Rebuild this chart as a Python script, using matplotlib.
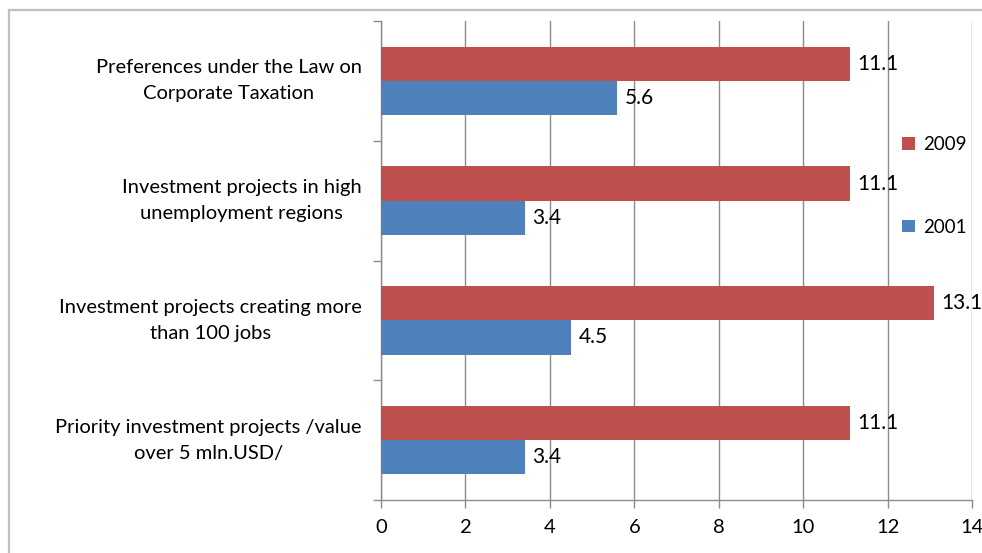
import numpy as np
import matplotlib.pyplot as plt
from matplotlib.patches import Rectangle

plt.rcParams['font.family'] = ['Lato', 'DejaVu Sans']

categories = ["Preferences under the Law on\nCorporate Taxation",
              "Investment projects in high\nunemployment regions",
              "Investment projects creating more\nthan 100 jobs",
              "Priority investment projects /value\nover 5 mln.USD/"]
vals_2009 = [11.1, 11.1, 13.1, 11.1]
vals_2001 = [5.6, 3.4, 4.5, 3.4]
xticks = [0, 2, 4, 6, 8, 10, 12, 14]

red = '#C0504D'
blue = '#4F81BD'
gray = '#8C8C8C'
fs = 14.5

fig = plt.figure(figsize=(9.82, 5.53), dpi=100)
# outer chart frame
fig.patches.append(Rectangle((9 / 982, -0.2), 1.2, 1.2 - 10 / 553,
                             transform=fig.transFigure, fill=False,
                             edgecolor='#BFBFBF', linewidth=1.6))

ax = fig.add_axes([381 / 982, 1 - 500 / 553, (972 - 381) / 982, (500 - 21) / 553])

y = np.arange(len(categories))
h = 0.285
b1 = ax.barh(y - h / 2, vals_2009, height=h, color=red, label='2009', zorder=3)
b2 = ax.barh(y + h / 2, vals_2001, height=h, color=blue, label='2001', zorder=3)

for bars, vals in ((b1, vals_2009), (b2, vals_2001)):
    for bar, v in zip(bars, vals):
        ax.text(v + 0.18, bar.get_y() + bar.get_height() / 2, f'{v:.1f}',
                va='center', ha='left', fontsize=15, zorder=4)

ax.set_xlim(0, 14)
ax.set_ylim(len(categories) - 0.5, -0.5)
ax.set_xticks(xticks)
ax.set_xticklabels([str(t) for t in xticks], fontsize=fs)

ax.set_yticks(np.arange(-0.5, len(categories), 1.0))
ax.set_yticklabels([])
ax.set_yticks(y, minor=True)
ax.set_yticklabels(categories, minor=True, fontsize=fs, ha='right', va='center',
                   multialignment='center', linespacing=1.65)
ax.tick_params(axis='y', which='minor', length=0, pad=14)
ax.tick_params(axis='y', which='major', length=6, color=gray, width=1)
ax.tick_params(axis='x', length=6, color=gray, width=1, pad=8)

ax.grid(axis='x', color=gray, linewidth=1, zorder=0)
for s in ('top', 'right'):
    ax.spines[s].set_visible(False)
for s in ('left', 'bottom'):
    ax.spines[s].set_color(gray)
    ax.spines[s].set_linewidth(1)

fig.legend(handles=[b1, b2], labels=['2009', '2001'], loc='center left',
           bbox_to_anchor=(893 / 982, 1 - 186 / 553), frameon=False,
           fontsize=13.5, handlelength=0.65, handleheight=0.65,
           handletextpad=0.45, labelspacing=3.5, borderpad=0)

fig.savefig('out.png', dpi=100)
